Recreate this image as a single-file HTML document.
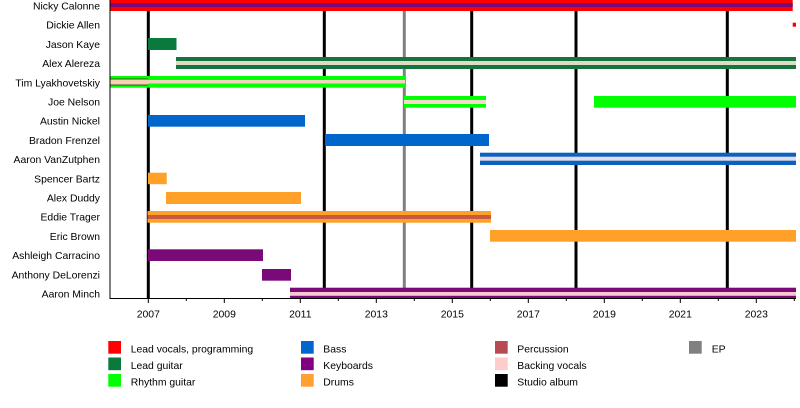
<!DOCTYPE html>
<html><head><meta charset="utf-8"><style>
html,body{margin:0;padding:0;background:#fff;}
svg{display:block;}
text{font-family:"Liberation Sans",Arial,sans-serif;font-size:10.4px;fill:#000;}
</style></head><body>
<svg width="800" height="408" viewBox="0 0 800 408" xmlns="http://www.w3.org/2000/svg">
<rect x="0" y="0" width="800" height="408" fill="#fff"/>
<!-- album lines -->
<rect x="146.8" y="0" width="3" height="299" fill="#000"/>
<rect x="322.8" y="0" width="3" height="299" fill="#000"/>
<rect x="402.8" y="0" width="3" height="299" fill="#808080"/>
<rect x="470.2" y="0" width="3" height="299" fill="#000"/>
<rect x="574.5" y="0" width="3" height="299" fill="#000"/>
<rect x="725.8" y="0" width="3" height="299" fill="#000"/>

<!-- Nicky Calonne -->
<rect x="110" y="-1" width="682.7" height="12" fill="#ff0000"/>
<rect x="110" y="3" width="682.7" height="4" fill="#7a0a78"/>
<!-- Dickie Allen -->
<rect x="792.7" y="22.7" width="3.3" height="4" fill="#ff0000"/>
<!-- Jason Kaye -->
<rect x="148" y="38" width="28.5" height="12" fill="#0a7a3c"/>
<!-- Alex Alereza -->
<rect x="176" y="57" width="620" height="12" fill="#137440"/>
<rect x="176" y="61" width="620" height="4" fill="#e0dcc4"/>
<!-- Tim Lyakhovetskiy -->
<rect x="110" y="76" width="38" height="11.7" fill="#00ff00"/>
<rect x="110" y="78.5" width="38" height="7" fill="#3a5a20"/>
<rect x="110" y="79.5" width="38" height="5" fill="#f8d0b8"/>
<rect x="148" y="76" width="257" height="11.7" fill="#00ff00"/>
<rect x="148" y="80" width="257" height="3.5" fill="#f4d4c0"/>
<!-- Joe Nelson -->
<rect x="404" y="96" width="82" height="11.7" fill="#00ff00"/>
<rect x="404" y="100" width="82" height="4" fill="#f0dcc8"/>
<rect x="594" y="96" width="202" height="11.7" fill="#00ff00"/>
<!-- Austin Nickel -->
<rect x="148" y="115" width="157" height="11.7" fill="#0066cc"/>
<!-- Bradon Frenzel -->
<rect x="325" y="134" width="164" height="12" fill="#0066cc"/>
<!-- Aaron VanZutphen -->
<rect x="480" y="152.7" width="316" height="12.3" fill="#0a62c0"/>
<rect x="480" y="156.7" width="316" height="4" fill="#e4dce8"/>
<!-- Spencer Bartz -->
<rect x="148" y="172.7" width="18.7" height="11.5" fill="#ffa028"/>
<!-- Alex Duddy -->
<rect x="166" y="192" width="135" height="12" fill="#ffa028"/>
<!-- Eddie Trager -->
<rect x="147.5" y="211" width="343.5" height="11.7" fill="#ffa028"/>
<rect x="147.5" y="215" width="343.5" height="4" fill="#c45a40"/>
<!-- Eric Brown -->
<rect x="490" y="230" width="306" height="11.7" fill="#ffa028"/>
<!-- Ashleigh Carracino -->
<rect x="148" y="249.3" width="115" height="11.7" fill="#7a0a78"/>
<!-- Anthony DeLorenzi -->
<rect x="262" y="269" width="29" height="11.7" fill="#7a0a78"/>
<!-- Aaron Minch -->
<rect x="290" y="287.7" width="506" height="11.3" fill="#7a0a78"/>
<rect x="290" y="292" width="506" height="3.8" fill="#f8c8d0"/>

<!-- axes -->
<rect x="109.5" y="0" width="1" height="299" fill="#000"/>
<rect x="109.5" y="298" width="686.5" height="1" fill="#000"/>
<g fill="#000">
<rect x="147.8" y="299" width="1" height="4"/>
<rect x="185.8" y="299" width="1" height="2"/>
<rect x="223.8" y="299" width="1" height="4"/>
<rect x="261.8" y="299" width="1" height="2"/>
<rect x="299.8" y="299" width="1" height="4"/>
<rect x="337.8" y="299" width="1" height="2"/>
<rect x="375.8" y="299" width="1" height="4"/>
<rect x="413.8" y="299" width="1" height="2"/>
<rect x="451.8" y="299" width="1" height="4"/>
<rect x="489.8" y="299" width="1" height="2"/>
<rect x="527.8" y="299" width="1" height="4"/>
<rect x="565.8" y="299" width="1" height="2"/>
<rect x="603.8" y="299" width="1" height="4"/>
<rect x="641.8" y="299" width="1" height="2"/>
<rect x="679.8" y="299" width="1" height="4"/>
<rect x="717.8" y="299" width="1" height="2"/>
<rect x="755.8" y="299" width="1" height="4"/>
<rect x="793.8" y="299" width="1" height="2"/>
</g>
<g text-anchor="middle">
<text x="148.3" y="317.5">2007</text>
<text x="224.3" y="317.5">2009</text>
<text x="300.3" y="317.5">2011</text>
<text x="376.3" y="317.5">2013</text>
<text x="452.3" y="317.5">2015</text>
<text x="528.3" y="317.5">2017</text>
<text x="604.3" y="317.5">2019</text>
<text x="680.3" y="317.5">2021</text>
<text x="756.3" y="317.5">2023</text>
</g>

<!-- names -->
<g text-anchor="end">
<text x="100" y="9.5">Nicky Calonne</text>
<text x="100" y="28.7">Dickie Allen</text>
<text x="100" y="47.9">Jason Kaye</text>
<text x="100" y="67.1">Alex Alereza</text>
<text x="100" y="86.3">Tim Lyakhovetskiy</text>
<text x="100" y="105.5">Joe Nelson</text>
<text x="100" y="124.7">Austin Nickel</text>
<text x="100" y="143.9">Bradon Frenzel</text>
<text x="100" y="163.1">Aaron VanZutphen</text>
<text x="100" y="182.3">Spencer Bartz</text>
<text x="100" y="201.5">Alex Duddy</text>
<text x="100" y="220.7">Eddie Trager</text>
<text x="100" y="239.9">Eric Brown</text>
<text x="100" y="259.1">Ashleigh Carracino</text>
<text x="100" y="278.3">Anthony DeLorenzi</text>
<text x="100" y="297.5">Aaron Minch</text>
</g>

<!-- legend -->
<rect x="108.3" y="341" width="12.7" height="12.7" fill="#ff0000"/>
<rect x="108.3" y="357.5" width="12.7" height="12.7" fill="#0a7a3c"/>
<rect x="108.3" y="374" width="12.7" height="12.7" fill="#00ff00"/>
<text x="130.7" y="352.5">Lead vocals, programming</text>
<text x="130.7" y="369">Lead guitar</text>
<text x="130.7" y="385.5">Rhythm guitar</text>

<rect x="301" y="341" width="12.7" height="12.7" fill="#0066cc"/>
<rect x="301" y="357.5" width="12.7" height="12.7" fill="#800080"/>
<rect x="301" y="374" width="12.7" height="12.7" fill="#ffa030"/>
<text x="323.3" y="352.5">Bass</text>
<text x="323.3" y="369">Keyboards</text>
<text x="323.3" y="385.5">Drums</text>

<rect x="495" y="341" width="12.7" height="12.7" fill="#b84a54"/>
<rect x="495" y="357.5" width="12.7" height="12.7" fill="#ffcccc"/>
<rect x="495" y="374" width="12.7" height="12.7" fill="#000000"/>
<text x="517.3" y="352.5">Percussion</text>
<text x="517.3" y="369">Backing vocals</text>
<text x="517.3" y="385.5">Studio album</text>

<rect x="689" y="341" width="12.7" height="12.7" fill="#808080"/>
<text x="711.7" y="352.5">EP</text>
</svg>
</body></html>
